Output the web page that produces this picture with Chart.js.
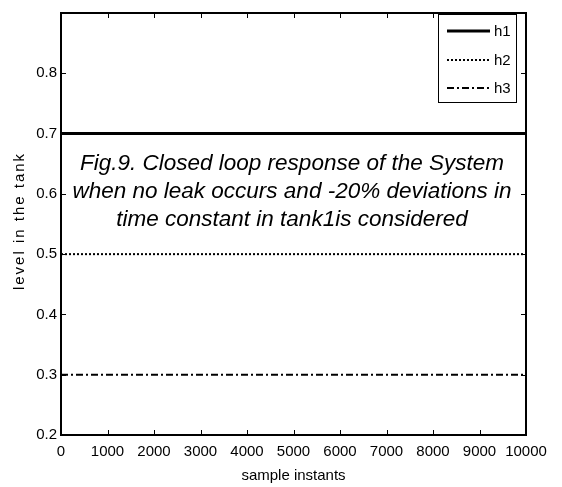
<!DOCTYPE html>
<html>
<head>
<meta charset="utf-8">
<script src="https://cdn.jsdelivr.net/npm/chart.js@4"></script>
<style>
  html, body { margin: 0; padding: 0; background: #fff; }
  #wrap { width: 562px; height: 487px; }
</style>
</head>
<body>
<div id="wrap"><canvas id="levels" width="562" height="487"></canvas></div>
<script>
(function () {
  "use strict";

  // values
  var samples = [0, 10000];
  var h1 = [0.7, 0.7];
  var h2 = [0.5, 0.5];
  var h3 = [0.3, 0.3];
  var seriesNames = ["h1", "h2", "h3"];
  var xRange = [0, 10000];
  var yRange = [0.2, 0.9];
  var caption = [
    "Fig.9. Closed loop response of the System",
    "when no leak occurs and -20% deviations in",
    "time constant in tank1is considered"
  ];

  var FONT = "'Liberation Sans Narrow', 'Liberation Sans', Arial, sans-serif";

  function points(xs, ys) {
    return xs.map(function (x, i) { return { x: x, y: ys[i] }; });
  }

  // box, inward ticks, legend and captions drawn on top, like a matlab figure
  var frame = {
    id: "frame",
    afterDraw: function (chart) {
      var ctx = chart.ctx;
      var a = chart.chartArea;
      var xs = chart.scales.x, ys = chart.scales.y;
      var TL = 5;

      ctx.save();
      ctx.strokeStyle = "#000";
      ctx.lineWidth = 1;
      xs.ticks.forEach(function (t) {
        var px = Math.round(xs.getPixelForValue(t.value)) + 0.5;
        ctx.beginPath();
        ctx.moveTo(px, a.bottom); ctx.lineTo(px, a.bottom - TL);
        ctx.moveTo(px, a.top); ctx.lineTo(px, a.top + TL);
        ctx.stroke();
      });
      ys.ticks.forEach(function (t) {
        var py = Math.round(ys.getPixelForValue(t.value)) + 0.5;
        ctx.beginPath();
        ctx.moveTo(a.left, py); ctx.lineTo(a.left + TL, py);
        ctx.moveTo(a.right, py); ctx.lineTo(a.right - TL, py);
        ctx.stroke();
      });

      ctx.lineWidth = 2;
      ctx.strokeRect(a.left, a.top, a.right - a.left, a.bottom - a.top);

      // legend
      var lx = 438, ly = 14, lw = 78, lh = 88;
      ctx.fillStyle = "#fff";
      ctx.fillRect(lx, ly, lw, lh);
      ctx.lineWidth = 1;
      ctx.strokeRect(lx + 0.5, ly + 0.5, lw, lh);
      var rows = [31, 60, 88];
      chart.data.datasets.forEach(function (ds, i) {
        ctx.beginPath();
        ctx.lineWidth = ds.borderWidth;
        ctx.setLineDash(ds.borderDash || []);
        ctx.moveTo(447, rows[i]);
        ctx.lineTo(490, rows[i]);
        ctx.stroke();
        ctx.setLineDash([]);
        ctx.fillStyle = "#000";
        ctx.font = "15px " + FONT;
        ctx.textAlign = "left";
        ctx.textBaseline = "middle";
        ctx.fillText(ds.label, 494, rows[i] + 1);
      });

      // caption in the middle of the plot
      ctx.fillStyle = "#000";
      ctx.font = "italic 22.5px 'Liberation Sans', Arial, sans-serif";
      ctx.textAlign = "center";
      ctx.textBaseline = "middle";
      caption.forEach(function (line, i) {
        ctx.fillText(line, 292, 164 + i * 28);
      });

      // axis titles
      ctx.font = "15px " + FONT;
      ctx.fillText("sample instants", (a.left + a.right) / 2, 476);
      ctx.save();
      ctx.translate(20, 221);
      ctx.rotate(-Math.PI / 2);
      if ("letterSpacing" in ctx) ctx.letterSpacing = "2px";
      ctx.fillText("level in the tank", 0, 0);
      ctx.restore();

      ctx.restore();
    }
  };

  new Chart(document.getElementById("levels").getContext("2d"), {
    type: "line",
    data: {
      datasets: [
        {
          label: seriesNames[0],
          data: points(samples, h1),
          borderColor: "#000",
          borderWidth: 3,
          pointRadius: 0,
          fill: false
        },
        {
          label: seriesNames[1],
          data: points(samples, h2),
          borderColor: "#000",
          borderWidth: 2,
          borderDash: [2, 2],
          pointRadius: 0,
          fill: false
        },
        {
          label: seriesNames[2],
          data: points(samples, h3),
          borderColor: "#000",
          borderWidth: 2,
          borderDash: [7, 3, 2, 3],
          pointRadius: 0,
          fill: false
        }
      ]
    },
    options: {
      responsive: false,
      animation: false,
      layout: { padding: { left: 0, right: 36, top: 6, bottom: 0 } },
      plugins: {
        legend: { display: false },
        tooltip: { enabled: false },
        title: { display: false }
      },
      scales: {
        x: {
          type: "linear",
          min: xRange[0],
          max: xRange[1],
          grid: { display: false, drawTicks: false },
          border: { display: false },
          ticks: {
            stepSize: 1000,
            padding: 8,
            maxRotation: 0,
            autoSkip: false,
            color: "#000",
            font: { family: FONT, size: 15 },
            callback: function (v) { return String(Math.round(v)); }
          },
          afterFit: function (s) { s.height = 52; }
        },
        y: {
          min: yRange[0],
          max: yRange[1],
          grid: { display: false, drawTicks: false },
          border: { display: false },
          ticks: {
            stepSize: 0.1,
            padding: 4,
            color: "#000",
            font: { family: FONT, size: 15 },
            callback: function (v) {
              var r = Math.round(v * 10) / 10;
              return r >= 0.9 ? "" : r.toFixed(1);
            }
          },
          afterFit: function (s) { s.width = 61; }
        }
      }
    },
    plugins: [frame]
  });
})();
</script>
</body>
</html>
